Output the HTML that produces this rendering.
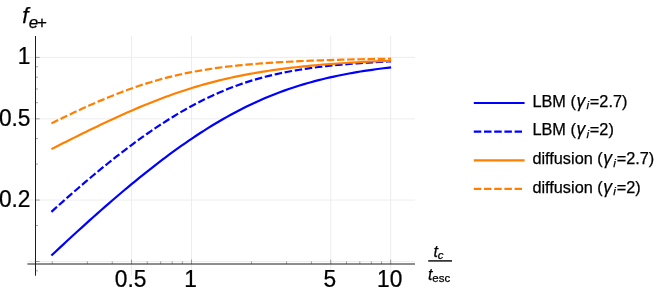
<!DOCTYPE html><html><head><meta charset="utf-8"><title>plot</title><style>html,body{margin:0;padding:0;background:#fff}svg{display:block;will-change:transform}text{font-family:"Liberation Sans",sans-serif;fill:#000;stroke:#000;stroke-width:0.25px}</style></head><body>
<svg width="664" height="295" viewBox="0 0 664 295">
<rect width="664" height="295" fill="#fff"/>
<g stroke="#ededed" stroke-width="1" fill="none">
<line x1="27.4" x2="415.0" y1="57.40" y2="57.40"/>
<line x1="27.4" x2="415.0" y1="118.84" y2="118.84"/>
<line x1="27.4" x2="415.0" y1="200.06" y2="200.06"/>
<line x1="27.4" x2="415.0" y1="261.50" y2="261.50"/>
<line x1="131.54" x2="131.54" y1="36.0" y2="275.7"/>
<line x1="191.50" x2="191.50" y1="36.0" y2="275.7"/>
<line x1="330.72" x2="330.72" y1="36.0" y2="275.7"/>
<line x1="390.67" x2="390.67" y1="36.0" y2="275.7"/>
</g>
<g fill="none" stroke-width="2.2" stroke-linejoin="round">
<path stroke="#0000ff" d="M51.40 255.53 L55.22 251.95 L59.03 248.39 L62.85 244.83 L66.67 241.30 L70.48 237.78 L74.30 234.27 L78.12 230.79 L81.93 227.32 L85.75 223.86 L89.57 220.43 L93.39 217.02 L97.20 213.63 L101.02 210.26 L104.84 206.91 L108.65 203.59 L112.47 200.29 L116.29 197.01 L120.10 193.76 L123.92 190.53 L127.74 187.33 L131.55 184.17 L135.37 181.03 L139.19 177.91 L143.00 174.84 L146.82 171.79 L150.64 168.77 L154.46 165.79 L158.27 162.85 L162.09 159.94 L165.91 157.06 L169.72 154.23 L173.54 151.43 L177.36 148.68 L181.17 145.96 L184.99 143.29 L188.81 140.66 L192.62 138.07 L196.44 135.52 L200.26 133.03 L204.07 130.58 L207.89 128.17 L211.71 125.81 L215.52 123.51 L219.34 121.25 L223.16 119.04 L226.98 116.88 L230.79 114.77 L234.61 112.71 L238.43 110.71 L242.24 108.75 L246.06 106.85 L249.88 105.00 L253.69 103.20 L257.51 101.45 L261.33 99.76 L265.14 98.11 L268.96 96.52 L272.78 94.98 L276.59 93.49 L280.41 92.04 L284.23 90.65 L288.04 89.30 L291.86 88.01 L295.68 86.75 L299.50 85.55 L303.31 84.39 L307.13 83.27 L310.95 82.19 L314.76 81.16 L318.58 80.16 L322.40 79.20 L326.21 78.29 L330.03 77.40 L333.85 76.56 L337.66 75.75 L341.48 74.97 L345.30 74.22 L349.11 73.50 L352.93 72.82 L356.75 72.16 L360.57 71.53 L364.38 70.92 L368.20 70.34 L372.02 69.79 L375.83 69.26 L379.65 68.75 L383.47 68.26 L387.28 67.80 L391.10 67.35"/>
<path stroke="#0000ff" stroke-dasharray="7.5 2.7" d="M51.40 211.82 L55.22 208.38 L59.03 204.96 L62.85 201.57 L66.67 198.19 L70.48 194.84 L74.30 191.51 L78.12 188.21 L81.93 184.93 L85.75 181.68 L89.57 178.45 L93.39 175.25 L97.20 172.08 L101.02 168.94 L104.84 165.84 L108.65 162.76 L112.47 159.72 L116.29 156.71 L120.10 153.73 L123.92 150.80 L127.74 147.90 L131.55 145.04 L135.37 142.22 L139.19 139.44 L143.00 136.70 L146.82 134.01 L150.64 131.36 L154.46 128.76 L158.27 126.20 L162.09 123.69 L165.91 121.23 L169.72 118.83 L173.54 116.47 L177.36 114.17 L181.17 111.92 L184.99 109.72 L188.81 107.58 L192.62 105.49 L196.44 103.46 L200.26 101.49 L204.07 99.58 L207.89 97.72 L211.71 95.92 L215.52 94.19 L219.34 92.51 L223.16 90.89 L226.98 89.32 L230.79 87.82 L234.61 86.38 L238.43 84.99 L242.24 83.66 L246.06 82.38 L249.88 81.16 L253.69 80.00 L257.51 78.88 L261.33 77.82 L265.14 76.81 L268.96 75.85 L272.78 74.94 L276.59 74.07 L280.41 73.24 L284.23 72.46 L288.04 71.72 L291.86 71.02 L295.68 70.35 L299.50 69.72 L303.31 69.12 L307.13 68.55 L310.95 68.02 L314.76 67.51 L318.58 67.02 L322.40 66.57 L326.21 66.13 L330.03 65.72 L333.85 65.33 L337.66 64.96 L341.48 64.61 L345.30 64.28 L349.11 63.96 L352.93 63.66 L356.75 63.37 L360.57 63.10 L364.38 62.84 L368.20 62.59 L372.02 62.36 L375.83 62.13 L379.65 61.92 L383.47 61.71 L387.28 61.52 L391.10 61.34"/>
<path stroke="#ff8000" d="M51.40 149.12 L55.22 147.19 L59.03 145.26 L62.85 143.34 L66.67 141.43 L70.48 139.52 L74.30 137.62 L78.12 135.72 L81.93 133.84 L85.75 131.97 L89.57 130.11 L93.39 128.26 L97.20 126.42 L101.02 124.60 L104.84 122.79 L108.65 121.00 L112.47 119.22 L116.29 117.47 L120.10 115.73 L123.92 114.01 L127.74 112.32 L131.55 110.65 L135.37 109.00 L139.19 107.38 L143.00 105.78 L146.82 104.22 L150.64 102.67 L154.46 101.16 L158.27 99.68 L162.09 98.23 L165.91 96.81 L169.72 95.42 L173.54 94.06 L177.36 92.74 L181.17 91.45 L184.99 90.19 L188.81 88.97 L192.62 87.78 L196.44 86.63 L200.26 85.51 L204.07 84.42 L207.89 83.37 L211.71 82.35 L215.52 81.36 L219.34 80.41 L223.16 79.49 L226.98 78.60 L230.79 77.74 L234.61 76.92 L238.43 76.12 L242.24 75.35 L246.06 74.61 L249.88 73.90 L253.69 73.22 L257.51 72.56 L261.33 71.93 L265.14 71.32 L268.96 70.74 L272.78 70.18 L276.59 69.64 L280.41 69.13 L284.23 68.63 L288.04 68.16 L291.86 67.70 L295.68 67.27 L299.50 66.85 L303.31 66.45 L307.13 66.06 L310.95 65.70 L314.76 65.34 L318.58 65.00 L322.40 64.68 L326.21 64.37 L330.03 64.07 L333.85 63.79 L337.66 63.51 L341.48 63.25 L345.30 63.00 L349.11 62.76 L352.93 62.53 L356.75 62.31 L360.57 62.10 L364.38 61.90 L368.20 61.71 L372.02 61.52 L375.83 61.34 L379.65 61.18 L383.47 61.01 L387.28 60.86 L391.10 60.71"/>
<path stroke="#ff8000" stroke-dasharray="7.5 2.7" d="M51.40 123.38 L55.22 121.50 L59.03 119.64 L62.85 117.80 L66.67 115.96 L70.48 114.15 L74.30 112.35 L78.12 110.57 L81.93 108.81 L85.75 107.08 L89.57 105.36 L93.39 103.67 L97.20 102.01 L101.02 100.38 L104.84 98.77 L108.65 97.20 L112.47 95.65 L116.29 94.14 L120.10 92.66 L123.92 91.22 L127.74 89.82 L131.55 88.45 L135.37 87.12 L139.19 85.83 L143.00 84.57 L146.82 83.36 L150.64 82.19 L154.46 81.06 L158.27 79.96 L162.09 78.91 L165.91 77.90 L169.72 76.93 L173.54 76.00 L177.36 75.11 L181.17 74.26 L184.99 73.44 L188.81 72.67 L192.62 71.93 L196.44 71.22 L200.26 70.55 L204.07 69.91 L207.89 69.30 L211.71 68.73 L215.52 68.18 L219.34 67.66 L223.16 67.17 L226.98 66.70 L230.79 66.26 L234.61 65.84 L238.43 65.44 L242.24 65.06 L246.06 64.70 L249.88 64.36 L253.69 64.03 L257.51 63.73 L261.33 63.43 L265.14 63.16 L268.96 62.89 L272.78 62.64 L276.59 62.40 L280.41 62.17 L284.23 61.96 L288.04 61.75 L291.86 61.56 L295.68 61.37 L299.50 61.19 L303.31 61.02 L307.13 60.86 L310.95 60.70 L314.76 60.56 L318.58 60.41 L322.40 60.28 L326.21 60.15 L330.03 60.03 L333.85 59.91 L337.66 59.80 L341.48 59.70 L345.30 59.60 L349.11 59.50 L352.93 59.41 L356.75 59.32 L360.57 59.23 L364.38 59.15 L368.20 59.08 L372.02 59.00 L375.83 58.93 L379.65 58.86 L383.47 58.80 L387.28 58.74 L391.10 58.68"/>
</g>
<line x1="27.4" x2="415.0" y1="264.00" y2="264.00" stroke="#1c1c1c" stroke-width="1"/>
<line x1="35.5" x2="35.5" y1="36.0" y2="275.7" stroke="#1c1c1c" stroke-width="1"/>
<g stroke="#444" stroke-width="0.5">
<line x1="35.5" x2="39.7" y1="57.40" y2="57.40"/>
<line x1="35.5" x2="39.7" y1="118.84" y2="118.84"/>
<line x1="35.5" x2="39.7" y1="200.06" y2="200.06"/>
<line x1="35.5" x2="39.7" y1="261.50" y2="261.50"/>
<line x1="35.5" x2="38.0" y1="66.74" y2="66.74"/>
<line x1="35.5" x2="38.0" y1="77.18" y2="77.18"/>
<line x1="35.5" x2="38.0" y1="89.02" y2="89.02"/>
<line x1="35.5" x2="38.0" y1="102.68" y2="102.68"/>
<line x1="35.5" x2="38.0" y1="138.62" y2="138.62"/>
<line x1="35.5" x2="38.0" y1="164.12" y2="164.12"/>
<line x1="35.5" x2="38.0" y1="225.56" y2="225.56"/>
<line x1="35.5" x2="38.0" y1="270.84" y2="270.84"/>
<line x1="131.54" x2="131.54" y1="264.00" y2="259.60"/>
<line x1="191.50" x2="191.50" y1="264.00" y2="259.60"/>
<line x1="330.72" x2="330.72" y1="264.00" y2="259.60"/>
<line x1="390.67" x2="390.67" y1="264.00" y2="259.60"/>
<line x1="52.28" x2="52.28" y1="264.00" y2="261.40"/>
<line x1="87.36" x2="87.36" y1="264.00" y2="261.40"/>
<line x1="112.24" x2="112.24" y1="264.00" y2="261.40"/>
<line x1="147.31" x2="147.31" y1="264.00" y2="261.40"/>
<line x1="160.65" x2="160.65" y1="264.00" y2="261.40"/>
<line x1="172.20" x2="172.20" y1="264.00" y2="261.40"/>
<line x1="182.39" x2="182.39" y1="264.00" y2="261.40"/>
<line x1="251.46" x2="251.46" y1="264.00" y2="261.40"/>
<line x1="286.53" x2="286.53" y1="264.00" y2="261.40"/>
<line x1="311.41" x2="311.41" y1="264.00" y2="261.40"/>
<line x1="346.49" x2="346.49" y1="264.00" y2="261.40"/>
<line x1="359.82" x2="359.82" y1="264.00" y2="261.40"/>
<line x1="371.37" x2="371.37" y1="264.00" y2="261.40"/>
<line x1="381.56" x2="381.56" y1="264.00" y2="261.40"/>
</g>
<g font-size="23.2">
<text transform="translate(30.5,64.40) scale(0.98,1)" text-anchor="end">1</text>
<text transform="translate(30.5,125.84) scale(0.98,1)" text-anchor="end">0.5</text>
<text transform="translate(30.5,207.06) scale(0.98,1)" text-anchor="end">0.2</text>
<text transform="translate(130.54,287.1) scale(0.98,1)" text-anchor="middle">0.5</text>
<text transform="translate(190.50,287.1) scale(0.98,1)" text-anchor="middle">1</text>
<text transform="translate(329.72,287.1) scale(0.98,1)" text-anchor="middle">5</text>
<text transform="translate(389.67,287.1) scale(0.98,1)" text-anchor="middle">10</text>
</g>
<text x="22.3" y="22.8" font-size="22.4" font-style="italic">f<tspan font-size="17" dy="4.7" dx="0.2">e<tspan font-style="normal" dx="-1.1">+</tspan></tspan></text>
<text x="433.4" y="256.5" font-size="16" font-style="italic">t<tspan font-size="11.5" dy="2.5">c</tspan></text>
<line x1="428.2" x2="452" y1="260.9" y2="260.9" stroke="#222" stroke-width="1.6"/>
<text x="427.9" y="279.6" font-size="16" font-style="italic">t<tspan font-size="11.5" dy="2.8" font-style="normal">esc</tspan></text>
<line x1="473.8" x2="524.6" y1="103.00" y2="103.00" stroke="#0000ff" stroke-width="2.2"/>
<text x="532.4" y="106.60" font-size="16.3">LBM (<tspan font-style="italic" font-size="17.5" dx="0.6">γ</tspan><tspan font-style="italic" font-size="11.8" dy="2.8" dx="1.2">i</tspan><tspan dy="-2.8" dx="0.8">=2.7)</tspan></text>
<line x1="473.8" x2="522.0" y1="131.65" y2="131.65" stroke="#0000ff" stroke-width="2.2" stroke-dasharray="7.5 2.7"/>
<text x="532.4" y="135.25" font-size="16.3">LBM (<tspan font-style="italic" font-size="17.5" dx="0.6">γ</tspan><tspan font-style="italic" font-size="11.8" dy="2.8" dx="1.2">i</tspan><tspan dy="-2.8" dx="0.8">=2)</tspan></text>
<line x1="473.8" x2="524.6" y1="160.30" y2="160.30" stroke="#ff8000" stroke-width="2.2"/>
<text x="532.4" y="163.90" font-size="16.3">diffusion (<tspan font-style="italic" font-size="17.5" dx="0.6">γ</tspan><tspan font-style="italic" font-size="11.8" dy="2.8" dx="1.2">i</tspan><tspan dy="-2.8" dx="0.8">=2.7)</tspan></text>
<line x1="473.8" x2="522.0" y1="188.95" y2="188.95" stroke="#ff8000" stroke-width="2.2" stroke-dasharray="7.5 2.7"/>
<text x="532.4" y="192.55" font-size="16.3">diffusion (<tspan font-style="italic" font-size="17.5" dx="0.6">γ</tspan><tspan font-style="italic" font-size="11.8" dy="2.8" dx="1.2">i</tspan><tspan dy="-2.8" dx="0.8">=2)</tspan></text>
</svg></body></html>
